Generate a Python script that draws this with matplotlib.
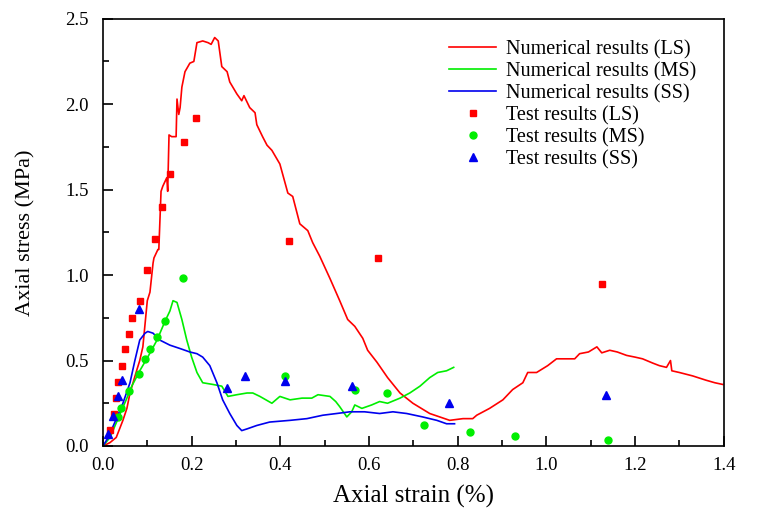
import matplotlib
matplotlib.use("Agg")
import matplotlib.pyplot as plt
from matplotlib.ticker import MultipleLocator

plt.rcParams['font.family'] = ['Liberation Serif', 'DejaVu Serif']

# Numerical results (LS)
ls_x = [0.0, 0.016, 0.03, 0.045, 0.054, 0.061, 0.077, 0.083, 0.09, 0.1, 0.106, 0.113, 0.115, 0.124, 0.126,
        0.131, 0.135, 0.144, 0.146, 0.149, 0.155, 0.165, 0.167, 0.171, 0.174, 0.178, 0.185, 0.196, 0.205,
        0.212, 0.225, 0.237, 0.244, 0.252, 0.26, 0.268, 0.28, 0.286, 0.302, 0.313, 0.318, 0.331, 0.343,
        0.347, 0.36, 0.37, 0.381, 0.399, 0.417, 0.428, 0.444, 0.462, 0.473, 0.489, 0.512, 0.534, 0.552,
        0.568, 0.586, 0.597, 0.618, 0.642, 0.67, 0.699, 0.737, 0.782, 0.812, 0.834, 0.843, 0.872, 0.902,
        0.924, 0.947, 0.958, 0.978, 1.003, 1.023, 1.064, 1.075, 1.095, 1.114, 1.125, 1.143, 1.16, 1.181,
        1.2, 1.217, 1.24, 1.255, 1.271, 1.28, 1.283, 1.30, 1.33, 1.36, 1.38, 1.398]
ls_y = [0.0, 0.02, 0.05, 0.15, 0.22, 0.31, 0.45, 0.50, 0.58, 0.85, 0.90, 1.07, 1.10, 1.15, 1.15,
        1.49, 1.52, 1.57, 1.49, 1.82, 1.81, 1.81, 2.03, 1.94, 1.98, 2.10, 2.19, 2.24, 2.25,
        2.36, 2.37, 2.36, 2.35, 2.39, 2.37, 2.22, 2.19, 2.13, 2.06, 2.02, 2.05, 1.98, 1.95,
        1.88, 1.81, 1.76, 1.73, 1.65, 1.48, 1.46, 1.30, 1.26, 1.19, 1.11, 0.98, 0.85, 0.74,
        0.70, 0.63, 0.56, 0.49, 0.40, 0.31, 0.25, 0.19, 0.15, 0.16, 0.16, 0.18, 0.22, 0.27,
        0.33, 0.37, 0.43, 0.43, 0.47, 0.51, 0.51, 0.54, 0.55, 0.58, 0.545, 0.56, 0.55, 0.53,
        0.52, 0.51, 0.485, 0.47, 0.46, 0.50, 0.44, 0.43, 0.41, 0.385, 0.37, 0.36]

# Numerical results (MS)
ms_x = [0.0, 0.016, 0.034, 0.054, 0.065, 0.083, 0.101, 0.122, 0.14, 0.151, 0.158, 0.167, 0.178, 0.189,
        0.2, 0.212, 0.225, 0.248, 0.268, 0.282, 0.302, 0.325, 0.338, 0.354, 0.381, 0.399, 0.422, 0.449,
        0.471, 0.485, 0.512, 0.525, 0.534, 0.55, 0.561, 0.568, 0.584, 0.606, 0.624, 0.642, 0.67, 0.692,
        0.715, 0.737, 0.755, 0.775, 0.791]
ms_y = [0.0, 0.05, 0.16, 0.28, 0.35, 0.44, 0.52, 0.62, 0.73, 0.79, 0.85, 0.84, 0.74, 0.62,
        0.52, 0.43, 0.37, 0.36, 0.35, 0.29, 0.30, 0.31, 0.31, 0.29, 0.25, 0.29, 0.27, 0.28,
        0.28, 0.30, 0.29, 0.26, 0.23, 0.17, 0.20, 0.24, 0.22, 0.24, 0.26, 0.25, 0.28, 0.31,
        0.35, 0.40, 0.43, 0.44, 0.46]

# Numerical results (SS)
ss_x = [0.0, 0.012, 0.027, 0.045, 0.061, 0.072, 0.083, 0.095, 0.101, 0.113, 0.128, 0.151, 0.174, 0.196,
        0.212, 0.225, 0.241, 0.257, 0.27, 0.286, 0.302, 0.313, 0.325, 0.347, 0.376, 0.422, 0.46, 0.496,
        0.527, 0.557, 0.59, 0.624, 0.654, 0.685, 0.721, 0.753, 0.775, 0.793]
ss_y = [0.0, 0.05, 0.14, 0.25, 0.37, 0.50, 0.62, 0.66, 0.67, 0.66, 0.62, 0.59, 0.57, 0.55,
        0.54, 0.52, 0.47, 0.37, 0.27, 0.19, 0.12, 0.09, 0.10, 0.12, 0.14, 0.15, 0.16, 0.18,
        0.19, 0.20, 0.20, 0.19, 0.20, 0.19, 0.17, 0.15, 0.13, 0.13]

# Test results (LS)
tls_x = [0.016, 0.025, 0.029, 0.034, 0.043, 0.050, 0.059, 0.065, 0.083, 0.099, 0.117, 0.133, 0.151,
         0.183, 0.21, 0.42, 0.62, 1.125]
tls_y = [0.094, 0.187, 0.28, 0.374, 0.468, 0.567, 0.655, 0.75, 0.85, 1.03, 1.21, 1.40, 1.59,
         1.78, 1.92, 1.20, 1.10, 0.947]

# Test results (MS)
tms_x = [0.034, 0.041, 0.059, 0.081, 0.095, 0.106, 0.122, 0.14, 0.18, 0.41, 0.568, 0.64, 0.724,
         0.827, 0.93, 1.138]
tms_y = [0.17, 0.22, 0.32, 0.42, 0.51, 0.57, 0.64, 0.73, 0.98, 0.41, 0.33, 0.31, 0.12,
         0.08, 0.06, 0.035]

# Test results (SS)
tss_x = [0.012, 0.023, 0.034, 0.044, 0.081, 0.28, 0.32, 0.41, 0.561, 0.78, 1.134]
tss_y = [0.07, 0.175, 0.29, 0.385, 0.80, 0.34, 0.41, 0.38, 0.35, 0.25, 0.30]

fig = plt.figure(figsize=(7.57, 5.16), dpi=100)
ax = fig.add_axes([0.136, 0.1357, 0.820, 0.828])

ax.plot(ls_x, ls_y, color='#ff0000', lw=1.2, label='Numerical results (LS)')
ax.plot(ms_x, ms_y, color='#00ee00', lw=1.2, label='Numerical results (MS)')
ax.plot(ss_x, ss_y, color='#0000ee', lw=1.2, label='Numerical results (SS)')
ax.plot(tls_x, tls_y, 's', color='#ff0000', ms=5, ls='none', label='Test results (LS)')
ax.plot(tms_x, tms_y, 'o', color='#00ee00', ms=5, ls='none', label='Test results (MS)')
ax.plot(tss_x, tss_y, '^', color='#0000ee', ms=5.5, ls='none', label='Test results (SS)')

ax.set_xlim(0, 1.4)
ax.set_ylim(0, 2.5)
ax.xaxis.set_major_locator(MultipleLocator(0.2))
ax.xaxis.set_minor_locator(MultipleLocator(0.1))
ax.yaxis.set_major_locator(MultipleLocator(0.5))
ax.yaxis.set_minor_locator(MultipleLocator(0.25))
ax.xaxis.set_major_formatter(plt.FormatStrFormatter('%.1f'))
ax.yaxis.set_major_formatter(plt.FormatStrFormatter('%.1f'))
ax.tick_params(which='both', direction='in', top=False, right=False, labelsize=13.5, width=1.2)
ax.tick_params(which='major', length=7)
ax.tick_params(which='minor', length=4)
ax.tick_params(axis='x', which='major', pad=8)
ax.tick_params(axis='y', which='major', pad=10)
for s in ax.spines.values():
    s.set_linewidth(1.2)

ax.set_xlabel('Axial strain (%)', fontsize=18, labelpad=8)
ax.set_ylabel('Axial stress (MPa)', fontsize=16, labelpad=22)

ax.legend(loc='upper right', bbox_to_anchor=(0.975, 0.979), frameon=False, fontsize=14.5,
          handlelength=2.3, labelspacing=0.14, handletextpad=0.5, borderaxespad=0.2)

fig.savefig('out.png', dpi=100)
